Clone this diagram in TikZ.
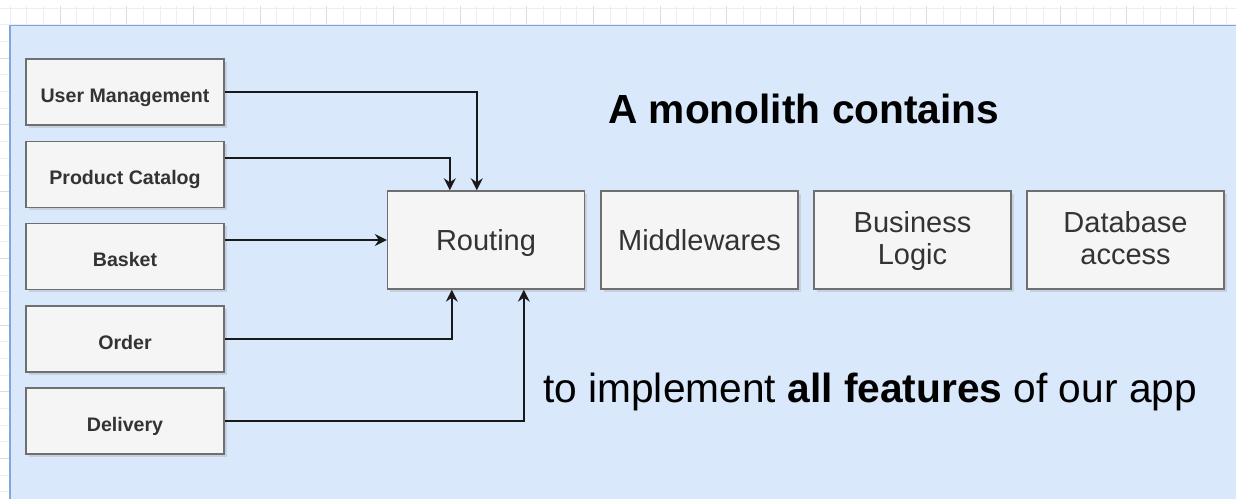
\documentclass[tikz,border=0pt]{standalone}
\usepackage{fontspec}
\setmainfont{Liberation Sans}
\usetikzlibrary{shadows,arrows.meta,calc}
\definecolor{bgblue}{HTML}{DAE8FC}
\definecolor{bgborder}{HTML}{7EA6E0}
\definecolor{boxfill}{HTML}{F5F5F5}
\definecolor{boxline}{HTML}{6F6F6F}
\definecolor{boxtext}{HTML}{333333}
\definecolor{gridminor}{HTML}{EEEEEE}
\definecolor{gridmajor}{HTML}{DDDDDD}
\tikzset{
  basebox/.style={draw=boxline, fill=boxfill, line width=1.4pt, inner sep=0pt, text=boxtext,
    drop shadow={shadow xshift=2.5pt, shadow yshift=-2.5pt, opacity=0.22, fill=gray}},
  featbox/.style={basebox, minimum width=198pt, minimum height=66pt,
    text height=20pt, text depth=0pt,
    font=\fontsize{19.6}{23}\selectfont\bfseries},
  partbox/.style={basebox, minimum width=197pt, minimum height=98pt, align=center,
    font=\fontsize{29}{32}\selectfont},
  onebox/.style={partbox, text height=20.8pt, text depth=0pt},
  conn/.style={draw=black!90, line width=1.4pt, -{Stealth[length=12pt,width=12pt,inset=4pt]}},
  bigtext/.style={inner sep=0pt, anchor=base west, text=black, font=\fontsize{40.7}{48}\selectfont},
}
\begin{document}
\begin{tikzpicture}[x=1pt, y=-1pt]
\useasboundingbox (0,0) rectangle (1236,498);
\fill[white] (0,0) rectangle (1236,498);
% grid
\foreach \i in {0,...,74} {
  \pgfmathsetmacro\xx{10+16.6667*\i}
  \pgfmathtruncatemacro\m{mod(\i,4)}
  \ifnum\m=3
    \draw[gridmajor, line width=1pt] (\xx,6) -- (\xx,498);
  \else
    \draw[gridminor, line width=1pt] (\xx,6) -- (\xx,498);
  \fi
}
\foreach \i in {0,...,29} {
  \pgfmathsetmacro\yy{8.33+16.6667*\i}
  \pgfmathtruncatemacro\m{mod(\i,4)}
  \ifnum\m=3
    \draw[gridmajor, line width=1pt] (0,\yy) -- (1236,\yy);
  \else
    \draw[gridminor, line width=1pt] (0,\yy) -- (1236,\yy);
  \fi
}
% background container
\fill[bgblue] (10,25.5) rectangle (1245,505);
\draw[bgborder, line width=1.2pt] (1245,25.5) -- (10,25.5) -- (10,505);

% feature boxes
\node[featbox] (um)  at (125,92)    {User Management};
\node[featbox] (pc)  at (125,174.5) {Product Catalog};
\node[featbox] (bk)  at (125,256.5) {Basket};
\node[featbox] (ord) at (125,339)   {Order};
\node[featbox] (del) at (125,421)   {Delivery};

% monolith parts
\node[onebox] (rt) at (486,240)    {Routing};
\node[onebox] (mw) at (699.5,240)  {Middlewares};
\node[partbox] (bl) at (912.5,240)  {Business\rule{0pt}{24pt}\\Logic};
\node[partbox] (db) at (1125.5,240) {Database\rule{0pt}{24pt}\\access\vphantom{g}};

% texts
\node[bigtext, font=\fontsize{40.7}{48}\selectfont\bfseries] (title) at (608,123) {A monolith contains};
\node[bigtext] (sub) at (543,402) {to implement \textbf{all features} of our app};

% connectors
\coordinate (rtum)  at ([xshift=90pt]rt.north west);
\coordinate (rtpc)  at ([xshift=63pt]rt.north west);
\coordinate (rtord) at ([xshift=65pt]rt.south west);
\coordinate (rtdel) at ([xshift=137pt]rt.south west);
\draw[conn] (um.east) -| (rtum);
\draw[conn] ([yshift=16.5pt]pc.east) -| (rtpc);
\draw[conn] ([yshift=16.5pt]bk.east) -- (rt.west);
\draw[conn] (ord.east) -| (rtord);
\draw[conn] (del.east) -| (rtdel);
\end{tikzpicture}
\end{document}
